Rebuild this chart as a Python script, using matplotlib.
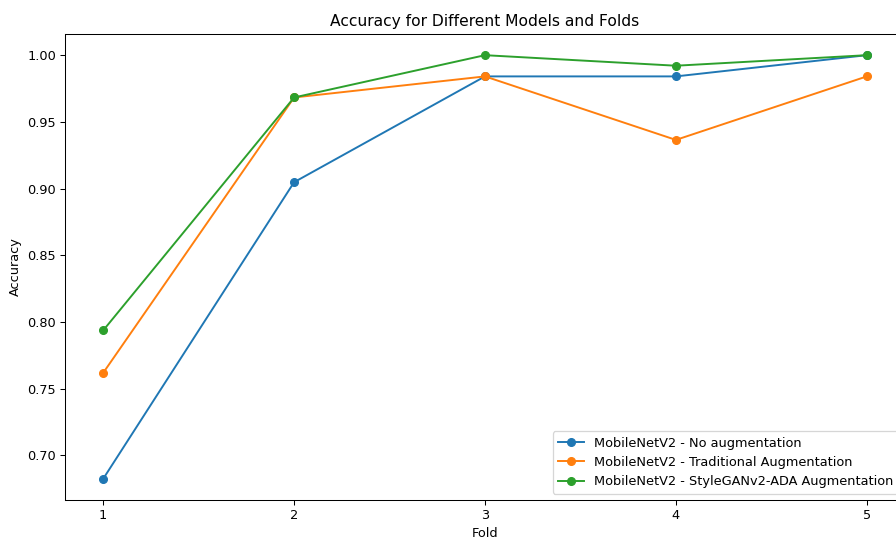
import matplotlib
matplotlib.use("Agg")
import matplotlib.pyplot as plt

folds = [1, 2, 3, 4, 5]
acc_none = [0.6825, 0.9048, 0.9841, 0.9841, 1.0]
acc_trad = [0.7619, 0.9683, 0.9841, 0.9365, 0.9841]
acc_gan = [0.7937, 0.9683, 1.0, 0.9921, 1.0]

labels = ["MobileNetV2 - No augmentation",
          "MobileNetV2 - Traditional Augmentation",
          "MobileNetV2 - StyleGANv2-ADA Augmentation"]

dpi = 92.8
fig = plt.figure(figsize=(896/dpi, 540/dpi), dpi=dpi)
# axes run past the right edge, as in the reference crop
ax = fig.add_axes([65/896, 40/540, 840/896, 466/540])

ax.plot(folds, acc_none, marker="o", label=labels[0])
ax.plot(folds, acc_trad, marker="o", label=labels[1])
ax.plot(folds, acc_gan, marker="o", label=labels[2])

ax.set_xticks(folds)
ax.set_xlabel("Fold")
ax.set_ylabel("Accuracy")
ax.set_title("Accuracy for Different Models and Folds")
ax.legend(loc="lower right")

fig.savefig("out.png", dpi=dpi)
